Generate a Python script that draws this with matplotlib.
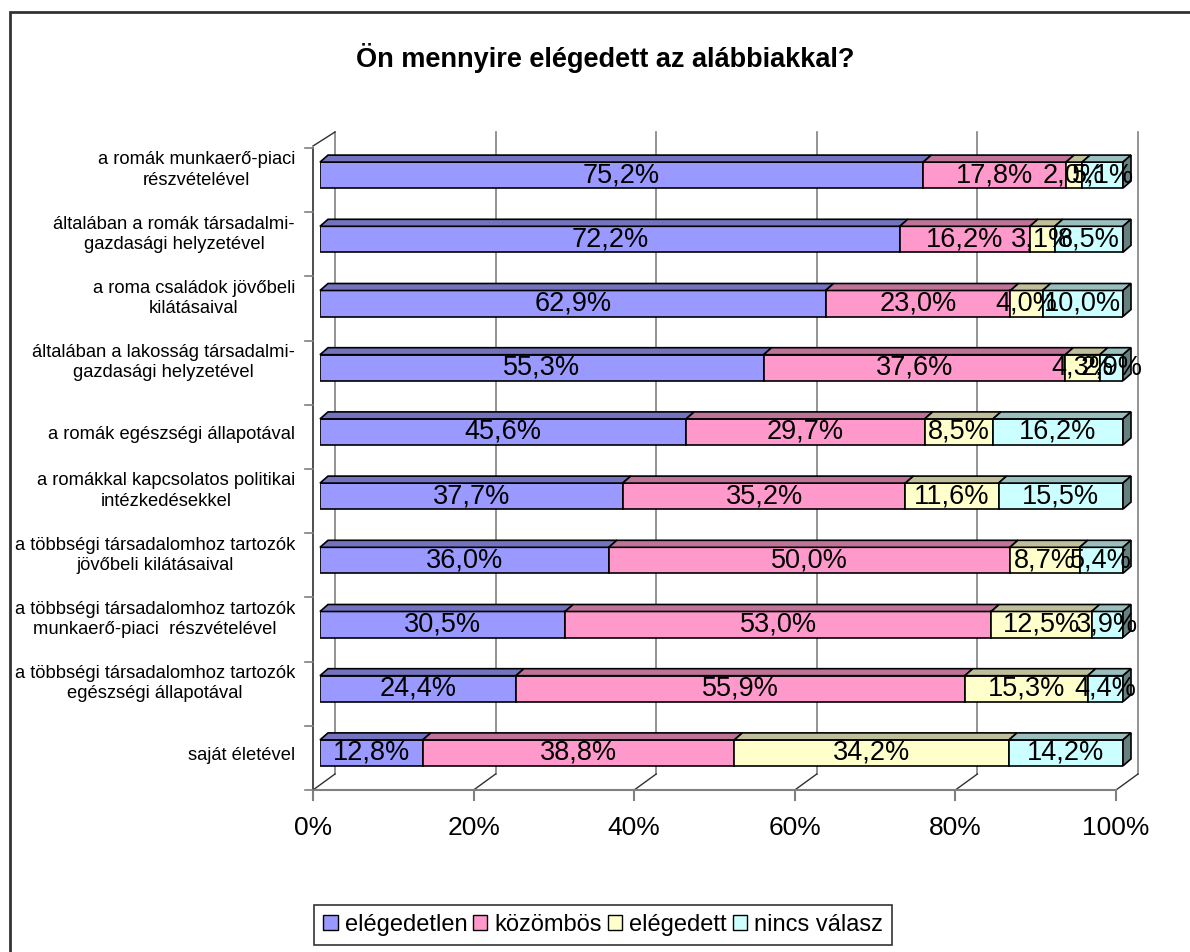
import matplotlib
matplotlib.use('Agg')
import matplotlib.pyplot as plt
from matplotlib.patches import Polygon, Patch, Rectangle
from matplotlib.transforms import ScaledTranslation, IdentityTransform
import numpy as np

plt.rcParams['font.family'] = ['Liberation Sans', 'DejaVu Sans']

title = 'Ön mennyire elégedett az alábbiakkal?'
categories = [
    'a romák munkaerő-piaci\nrészvételével',
    'általában a romák társadalmi-\ngazdasági helyzetével',
    'a roma családok jövőbeli\nkilátásaival',
    'általában a lakosság társadalmi-\ngazdasági helyzetével',
    'a romák egészségi állapotával',
    'a romákkal kapcsolatos politikai\nintézkedésekkel',
    'a többségi társadalomhoz tartozók\njövőbeli kilátásaival',
    'a többségi társadalomhoz tartozók\nmunkaerő-piaci  részvételével',
    'a többségi társadalomhoz tartozók\negészségi állapotával',
    'saját életével',
]
elegedetlen = [75.2, 72.2, 62.9, 55.3, 45.6, 37.7, 36.0, 30.5, 24.4, 12.8]
kozombos = [17.8, 16.2, 23.0, 37.6, 29.7, 35.2, 50.0, 53.0, 55.9, 38.8]
elegedett = [2.0, 3.1, 4.0, 4.3, 8.5, 11.6, 8.7, 12.5, 15.3, 34.2]
nincs_valasz = [5.1, 8.5, 10.0, 2.9, 16.2, 15.5, 5.4, 3.9, 4.4, 14.2]
series_names = ['elégedetlen', 'közömbös', 'elégedett', 'nincs válasz']
xticks = [0, 20, 40, 60, 80, 100]
xticklabels = ['0%', '20%', '40%', '60%', '80%', '100%']

front_cols = ['#9999FF', '#FF99CC', '#FFFFCC', '#CCFFFF']
top_cols = ['#7373BF', '#BF7399', '#BFBF99', '#99BFBF']
side_cols = ['#4D4D80', '#804D66', '#80806A', '#668080']

W, H = 1190, 952
fig = plt.figure(figsize=(W / 100, H / 100), dpi=100)
fig.patch.set_facecolor('white')
ax = fig.add_axes([320 / W, (H - 785) / H, 803 / W, 642 / H])
ax.set_xlim(0, 100)
ax.set_ylim(9.5, -0.5)
ax.axis('off')

def off(dx, dy):
    return ax.transData + ScaledTranslation(dx / 100, dy / 100, fig.dpi_scale_trans)

def disp(x, y):
    return ax.transData.transform((x, y))

grid_c = '#808080'
# back wall gridlines
for x in xticks:
    ax.plot([x, x], [-0.5, 9.5], transform=off(15, 11), color=grid_c, lw=1.2,
            clip_on=False, zorder=1)
# floor diagonals and bottom ticks
for x in xticks:
    p = disp(x, 9.5)
    ax.plot([p[0] - 7, p[0] + 15], [p[1] - 5, p[1] + 11], transform=IdentityTransform(),
            color='#303030', lw=1, clip_on=False, zorder=1)
    ax.plot([p[0] - 7, p[0] - 7], [p[1] - 5, p[1] - 15], transform=IdentityTransform(),
            color=grid_c, lw=1.5, clip_on=False, zorder=1)
# front bottom line
ax.plot([0, 100], [9.5, 9.5], transform=off(-7, -5), color=grid_c, lw=1.5,
        clip_on=False, zorder=1)
# left front vertical line
ax.plot([0, 0], [-0.5, 9.5], transform=off(-7, -5), color='#303030', lw=1.2,
        clip_on=False, zorder=1)
# top-left diagonal
p = disp(0, -0.5)
ax.plot([p[0] - 7, p[0] + 15], [p[1] - 3, p[1] + 11], transform=IdentityTransform(),
        color='#303030', lw=1, clip_on=False, zorder=1)
# left ticks
for k in range(11):
    p = disp(0, k - 0.5)
    ax.plot([p[0] - 15, p[0] - 7], [p[1] - 5, p[1] - 5], transform=IdentityTransform(),
            color=grid_c, lw=1.2, clip_on=False, zorder=1)

# bars
data = np.array([elegedetlen, kozombos, elegedett, nincs_valasz])
totals = data.sum(axis=0)
norm = data / totals * 100
ypos = np.arange(len(categories))
bh = 0.405
ddx, ddy = 8, 7
left = np.zeros(len(categories))
for j in range(4):
    ax.barh(ypos, norm[j], left=left, height=bh, color=front_cols[j],
            edgecolor='black', lw=1.2, zorder=3)
    for i in range(len(categories)):
        x0, x1 = left[i], left[i] + norm[j][i]
        a = disp(x0, ypos[i] - bh / 2)
        b = disp(x1, ypos[i] - bh / 2)
        poly = Polygon([(a[0], a[1]), (b[0], b[1]), (b[0] + ddx, b[1] + ddy),
                        (a[0] + ddx, a[1] + ddy)], closed=True,
                       transform=IdentityTransform(), facecolor=top_cols[j],
                       edgecolor='black', lw=1.2, zorder=3, clip_on=False)
        ax.add_patch(poly)
        if j == 3:
            c = disp(x1, ypos[i] + bh / 2)
            side = Polygon([(c[0], c[1]), (b[0], b[1]), (b[0] + ddx, b[1] + ddy),
                            (c[0] + ddx, c[1] + ddy)], closed=True,
                           transform=IdentityTransform(), facecolor=side_cols[j],
                           edgecolor='black', lw=1.2, zorder=3, clip_on=False)
            ax.add_patch(side)
        lbl = f'{data[j][i]:.1f}'.replace('.', ',') + '%'
        ax.text((x0 + x1) / 2, ypos[i], lbl, ha='center', va='center',
                fontsize=19.5, zorder=6, clip_on=False)
    left = left + norm[j]

# y labels
for i, cat in enumerate(categories):
    dy = 5 if '\n' in cat else -3
    ax.text(0, ypos[i], cat, transform=off(-25, dy), ha='right', va='center',
            multialignment='center', fontsize=13.2, linespacing=1.25)

# x tick labels
for x, t in zip(xticks, xticklabels):
    ax.text(x, 9.5, t, transform=off(-7, -43), ha='center', va='center', fontsize=19)

fig.text(605 / W, 1 - 58 / H, title, ha='center', va='center', fontsize=19.5,
         fontweight='bold')

handles = [Patch(facecolor=front_cols[j], edgecolor='black', lw=1) for j in range(4)]
leg = fig.legend(handles, series_names, loc='center', bbox_to_anchor=(603 / W, 1 - 925 / H),
                 ncol=4, fontsize=17, frameon=True, fancybox=False, edgecolor='black',
                 handlelength=0.6, handleheight=0.6, handletextpad=0.3,
                 columnspacing=0.25, borderpad=0.4, borderaxespad=0)
leg.get_frame().set_linewidth(1.2)

fig.add_artist(Rectangle((10 / W, -0.1), 1.2, 1.1 - 12 / H, transform=fig.transFigure,
                         fill=False, lw=2, edgecolor='#333333'))

fig.savefig('out.png', dpi=100)
